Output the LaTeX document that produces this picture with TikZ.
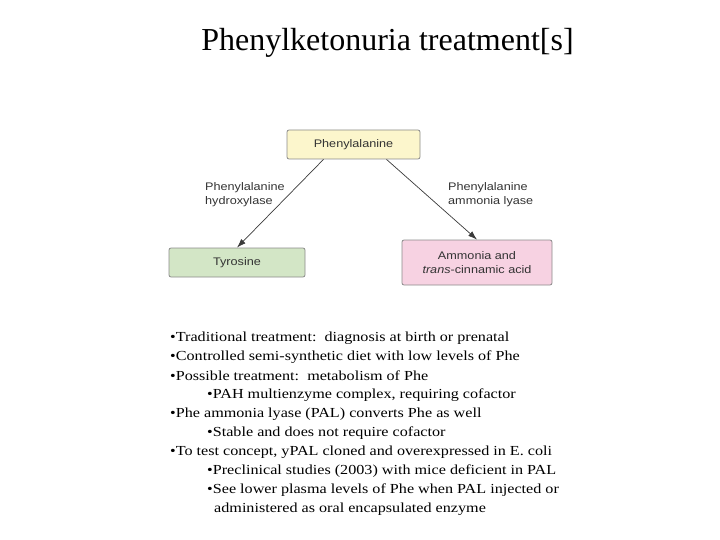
\documentclass[tikz,border=0pt]{standalone}
\usepackage{fontspec}
\setmainfont{Liberation Serif}
\newfontfamily\bodyfont[FakeStretch=1.17]{Liberation Serif}
\newfontfamily\diagfont[FakeStretch=1.15]{Liberation Sans}
\usetikzlibrary{arrows.meta,positioning}
\definecolor{boxyellow}{HTML}{FCF6CC}
\definecolor{boxgreen}{HTML}{D3E6C6}
\definecolor{boxpink}{HTML}{F7D2E2}
\definecolor{boxline}{HTML}{8A8A8A}
\definecolor{arrowgray}{HTML}{3A3A3A}

\begin{document}
\begin{tikzpicture}[x=1pt, y=-1pt,
    metabox/.style={draw=boxline, rounded corners=2pt, line width=0.8pt, font=\diagfont\fontsize{11}{14.5}\selectfont, text=black!80},
    enzlabel/.style={font=\diagfont\fontsize{11}{14}\selectfont, align=left, text=black!80, inner sep=0pt},
    bullet/.style={anchor=west, inner sep=0pt, font=\bodyfont\fontsize{13.8}{15}\selectfont}]
    \useasboundingbox (0, 0) rectangle (720, 540);

    % Titel
    \node[font=\fontsize{32}{36}\selectfont] (title) at (387.5, 43) {Phenylketonuria treatment[s]};

    % Stoffe
    \node[metabox, fill=boxyellow, minimum width=133pt, minimum height=29pt] (phe) at (353.5, 144.5) {Phenylalanine};
    \node[metabox, fill=boxgreen, minimum width=136pt, minimum height=29pt] (tyr) at (237, 262.5) {Tyrosine};
    \node[metabox, fill=boxpink, minimum width=150pt, minimum height=45pt, align=center] (cin) at (477, 262.5) {Ammonia and\\\textit{trans}-cinnamic acid};

    % Enzyme
    \node[enzlabel, anchor=north west] (pah) at (205, 182) {Phenylalanine\\hydroxylase};
    \node[enzlabel, anchor=north west] (pal) at (448, 182) {Phenylalanine\\ammonia lyase};

    % Pfeile
    \draw[arrowgray, line width=0.7pt, -{Latex[length=9pt,width=6pt]}] (phe.south) ++(-30,0) coordinate (a1) (a1) -- (tyr.north);
    \draw[arrowgray, line width=0.7pt, -{Latex[length=9pt,width=6pt]}] (phe.south) ++(33,0) coordinate (a2) (a2) -- (cin.north);

    % Stichpunkte
    \node[bullet] (l1) at (170, 338) {•Traditional treatment:\ \ diagnosis at birth or prenatal};
    \node[bullet] (l2) at (170, 357) {•Controlled semi-synthetic diet with low levels of Phe};
    \node[bullet] (l3) at (170, 376) {•Possible treatment:\ \ metabolism of Phe};
    \node[bullet] (l4) at (207, 395) {•PAH multienzyme complex, requiring cofactor};
    \node[bullet] (l5) at (170, 414) {•Phe ammonia lyase (PAL) converts Phe as well};
    \node[bullet] (l6) at (207, 433) {•Stable and does not require cofactor};
    \node[bullet] (l7) at (170, 452) {•To test concept, yPAL cloned and overexpressed in E. coli};
    \node[bullet] (l8) at (207, 471) {•Preclinical studies (2003) with mice deficient in PAL};
    \node[bullet] (l9) at (207, 490) {•See lower plasma levels of Phe when PAL injected or};
    \node[bullet] (l10) at (214, 509) {administered as oral encapsulated enzyme};
\end{tikzpicture}
\end{document}
